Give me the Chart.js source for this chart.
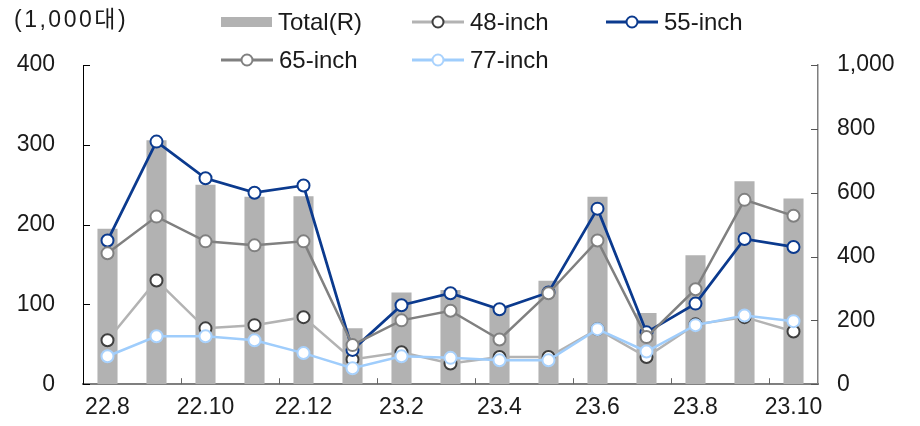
<!DOCTYPE html>
<html>
<head>
<meta charset="utf-8">
<script src="https://cdn.jsdelivr.net/npm/chart.js@4.4.1/dist/chart.umd.min.js"></script>
<style>
  html, body { margin: 0; padding: 0; background: #fff; }
  #wrap { position: relative; width: 920px; height: 426px; font-family: "Liberation Sans", "Noto Sans CJK KR", sans-serif; color: #1a1a1a; }
  #chart { position: absolute; left: 0; top: 0; }
  #unit { position: absolute; left: 14px; top: 4px; font-size: 23px; line-height: 30px; letter-spacing: 2.5px; }
  .leg { position: absolute; display: flex; align-items: center; font-size: 24px; line-height: 30px; white-space: nowrap; }
  .leg svg { margin-right: 6px; }
</style>
</head>
<body>
<div id="wrap">
  <canvas id="chart" width="920" height="426"></canvas>
  <div id="unit">(1,000대)</div>
  <div id="legend"></div>
</div>
<script>
// Monthly OLED TV shipments by size (1,000 units); Total on the right axis
const categories = ['22.8','22.9','22.10','22.11','22.12','23.1','23.2','23.3','23.4','23.5','23.6','23.7','23.8','23.9','23.10'];
const totalR  = [487, 764, 625, 587, 589, 175, 287, 295, 240, 324, 587, 223, 404, 636, 582];
const inch48  = [55, 130, 70, 74, 84, 31, 40, 26, 34, 34, 69, 34, 75, 84, 66];
const inch55  = [180, 304, 258, 240, 249, 43, 99, 114, 94, 115, 220, 65, 101, 182, 172];
const inch65  = [164, 210, 179, 174, 179, 49, 80, 92, 56, 114, 180, 59, 119, 231, 211];
const inch77  = [35, 60, 60, 55, 39, 20, 35, 33, 30, 30, 69, 41, 74, 86, 79];
const leftTicks  = [0, 100, 200, 300, 400];
const rightTicks = [0, 200, 400, 600, 800, 1000];
const seriesNames = ['Total(R)', '48-inch', '55-inch', '65-inch', '77-inch'];

const FONT = { family: '"Liberation Sans", "Noto Sans CJK KR", sans-serif', size: 23 };
const TEXT = '#1a1a1a';

// styling per line series
const styles = {
  '48-inch': { line: '#b3b3b3', marker: '#3f3f3f', width: 2.5, order: 4 },
  '55-inch': { line: '#0b3a8e', marker: '#0b3a8e', width: 2.75, order: 3 },
  '65-inch': { line: '#808080', marker: '#808080', width: 2.5, order: 2 },
  '77-inch': { line: '#9fcdfc', marker: '#a9d2fd', width: 2.5, order: 1 }
};

function lineSet(name, values) {
  const s = styles[name];
  return {
    type: 'line', label: name, data: values, yAxisID: 'y',
    borderColor: s.line, borderWidth: s.width, tension: 0,
    pointRadius: 6, pointBorderWidth: 2,
    pointBorderColor: s.marker, pointBackgroundColor: '#ffffff',
    order: s.order
  };
}

// short inward tick marks on all three axes
const innerTicks = {
  id: 'innerTicks',
  afterDraw(chart) {
    const c = chart.ctx, a = chart.chartArea;
    const y = chart.scales.y, yR = chart.scales.yR, x = chart.scales.x;
    c.save();
    c.lineWidth = 1;
    c.strokeStyle = '#000';
    leftTicks.forEach(v => {
      const p = Math.round(y.getPixelForValue(v)) + 0.5;
      c.beginPath(); c.moveTo(a.left, p); c.lineTo(a.left + 7, p); c.stroke();
    });
    c.strokeStyle = '#555';
    rightTicks.forEach(v => {
      const p = Math.round(yR.getPixelForValue(v)) + 0.5;
      c.beginPath(); c.moveTo(a.right - 7, p); c.lineTo(a.right, p); c.stroke();
    });
    c.strokeStyle = '#666';
    for (let i = 2; i < categories.length; i += 2) {
      const p = Math.round((x.getPixelForValue(i) + x.getPixelForValue(i - 1)) / 2) + 0.5;
      c.beginPath(); c.moveTo(p, a.bottom); c.lineTo(p, a.bottom - 6); c.stroke();
    }
    c.restore();
  }
};

new Chart(document.getElementById('chart'), {
  type: 'bar',
  data: {
    labels: categories,
    datasets: [
      { type: 'bar', label: 'Total(R)', data: totalR, yAxisID: 'yR',
        backgroundColor: '#b2b2b2', categoryPercentage: 1, barPercentage: 0.41, order: 5 },
      lineSet('48-inch', inch48),
      lineSet('55-inch', inch55),
      lineSet('65-inch', inch65),
      lineSet('77-inch', inch77)
    ]
  },
  options: {
    responsive: false,
    animation: false,
    layout: { padding: { top: 65, left: 0, right: 0, bottom: 0 } },
    plugins: { legend: { display: false }, tooltip: { enabled: false } },
    scales: {
      x: {
        offset: true,
        grid: { display: false, drawTicks: false },
        border: { color: '#7f7f7f', width: 2 },
        ticks: { autoSkip: false, maxRotation: 0, padding: 10, font: FONT, color: TEXT,
                 callback: (v, i) => (i % 2 === 0 ? categories[i] : '') },
        afterFit(s) { s.height = 39; }
      },
      y: {
        position: 'left', min: 0, max: 400,
        afterBuildTicks(s) { s.ticks = leftTicks.map(v => ({ value: v })); },
        ticks: { padding: 28, font: FONT, color: TEXT },
        grid: { display: false, drawTicks: false },
        border: { color: '#000', width: 1 },
        afterFit(s) { s.width = 83; }
      },
      yR: {
        position: 'right', min: 0, max: 1000,
        afterBuildTicks(s) { s.ticks = rightTicks.map(v => ({ value: v })); },
        ticks: { padding: 19, font: FONT, color: TEXT,
                 callback: v => v.toLocaleString('en-US') },
        grid: { display: false, drawTicks: false },
        border: { color: '#7f7f7f', width: 1.5 },
        afterFit(s) { s.width = 102; }
      }
    }
  },
  plugins: [innerTicks]
});

// legend: two rows laid out in three columns
const legendPos = [[221, 7], [412, 7], [606, 7], [221, 45], [412, 45]];
const legend = document.getElementById('legend');
seriesNames.forEach((name, i) => {
  const el = document.createElement('div');
  el.className = 'leg';
  el.style.left = legendPos[i][0] + 'px';
  el.style.top = legendPos[i][1] + 'px';
  let icon;
  if (name === 'Total(R)') {
    icon = '<svg width="51" height="30"><rect x="0" y="10" width="51" height="10" fill="#b2b2b2"/></svg>';
  } else {
    const s = styles[name];
    icon = '<svg width="52" height="30"><line x1="0" y1="15" x2="52" y2="15" stroke="' + s.line +
           '" stroke-width="3"/><circle cx="26" cy="15" r="5.5" fill="#fff" stroke="' + s.marker +
           '" stroke-width="2"/></svg>';
  }
  el.innerHTML = icon + '<span>' + name + '</span>';
  legend.appendChild(el);
});
</script>
</body>
</html>
